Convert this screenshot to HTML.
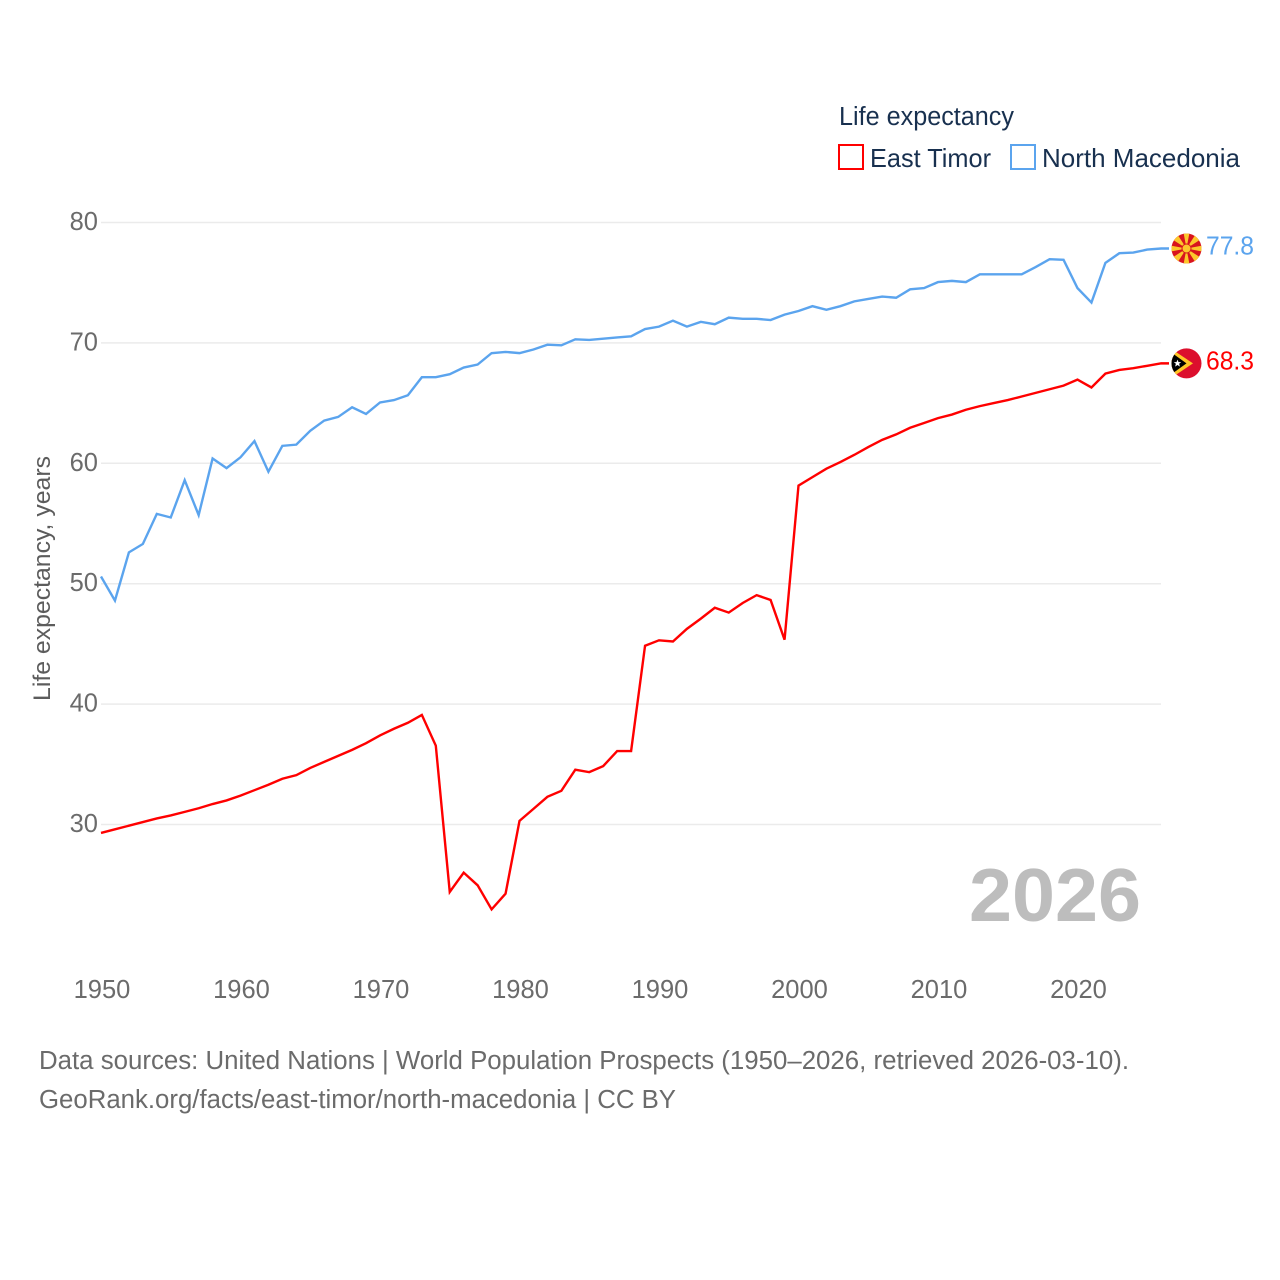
<!DOCTYPE html>
<html lang="en">
<head>
<meta charset="utf-8">
<title>Life expectancy: East Timor and North Macedonia</title>
<style>
html,body{margin:0;padding:0;background:#fff;width:1280px;height:1280px;overflow:hidden}
svg{display:block}
text{font-family:"Liberation Sans",sans-serif}
</style>
</head>
<body>
<svg id="chart" xmlns="http://www.w3.org/2000/svg" width="1280" height="1280" viewBox="0 0 1280 1280">
  <defs>
    <clipPath id="clip-flag"><circle cx="0" cy="0" r="15"/></clipPath>
  </defs>
  <g id="grid"></g>
  <g id="yticks"></g>
  <g id="xticks"></g>
  <text transform="translate(50,578.5) rotate(-90)" text-anchor="middle" font-size="24.5" fill="#5c5c5c" textLength="245" lengthAdjust="spacingAndGlyphs">Life expectancy, years</text>
  <g id="series"></g>

  <g id="flag-mk">
    <g clip-path="url(#clip-flag)">
      <rect x="-16" y="-16" width="32" height="32" fill="#d8141e"/>
      <g fill="#fcc72c">
        <polygon points="-3,-16 3,-16 0,0"/>
        <polygon points="-3,16 3,16 0,0"/>
        <polygon points="-16,-3 -16,3 0,0"/>
        <polygon points="16,-3 16,3 0,0"/>
        <polygon points="-14,-9 -9,-14 0,0"/>
        <polygon points="14,-9 9,-14 0,0"/>
        <polygon points="-14,9 -9,14 0,0"/>
        <polygon points="14,9 9,14 0,0"/>
      </g>
      <circle cx="0" cy="0" r="5" fill="#d8141e"/>
      <circle cx="0" cy="0" r="4" fill="#fcc72c"/>
    </g>
  </g>
  <g id="flag-tl">
    <g clip-path="url(#clip-flag)">
      <rect x="-16" y="-16" width="32" height="32" fill="#dc0f2d"/>
      <polygon points="-16,-15 6.5,0 -16,15" fill="#ffc726"/>
      <polygon points="-16,-11.5 0,0 -16,11.5" fill="#000"/>
      <polygon points="-9,-3.8 -8,-1.3 -5.3,-1.3 -7.4,0.4 -6.6,3.2 -9,1.6 -11.4,3.2 -10.6,0.4 -12.7,-1.3 -10,-1.3" fill="#fff"/>
    </g>
  </g>
  <text id="label-mk" x="1206" font-size="25.5" fill="#5ba4ee" textLength="48" lengthAdjust="spacingAndGlyphs"></text>
  <text id="label-tl" x="1206" font-size="25.5" fill="#ff0000" textLength="48" lengthAdjust="spacingAndGlyphs"></text>

  <text x="969" y="921" font-size="75" font-weight="700" fill="#bdbdbd" textLength="172" lengthAdjust="spacingAndGlyphs">2026</text>

  <g>
    <text x="839" y="125" font-size="25.5" fill="#18304f" textLength="175" lengthAdjust="spacingAndGlyphs">Life expectancy</text>
    <rect x="839" y="145" width="24" height="24" fill="none" stroke="#ff0000" stroke-width="2"/>
    <text x="870" y="167" font-size="26" fill="#18304f" textLength="121" lengthAdjust="spacingAndGlyphs">East Timor</text>
    <rect x="1011" y="145" width="24" height="24" fill="none" stroke="#5ba4ee" stroke-width="2"/>
    <text x="1042" y="167" font-size="26" fill="#18304f" textLength="198" lengthAdjust="spacingAndGlyphs">North Macedonia</text>
  </g>

  <g>
    <text x="39" y="1069" font-size="25.5" fill="#6b6b6b" textLength="1090" lengthAdjust="spacingAndGlyphs">Data sources: United Nations | World Population Prospects (1950–2026, retrieved 2026-03-10).</text>
    <text x="39" y="1108" font-size="25.5" fill="#6b6b6b" textLength="637" lengthAdjust="spacingAndGlyphs">GeoRank.org/facts/east-timor/north-macedonia | CC BY</text>
  </g>
</svg>
<script>
const years = [1950,1951,1952,1953,1954,1955,1956,1957,1958,1959,1960,1961,1962,1963,1964,1965,1966,1967,1968,1969,1970,1971,1972,1973,1974,1975,1976,1977,1978,1979,1980,1981,1982,1983,1984,1985,1986,1987,1988,1989,1990,1991,1992,1993,1994,1995,1996,1997,1998,1999,2000,2001,2002,2003,2004,2005,2006,2007,2008,2009,2010,2011,2012,2013,2014,2015,2016,2017,2018,2019,2020,2021,2022,2023,2024,2025,2026];
const northMacedonia = [50.6,48.6,52.6,53.3,55.8,55.5,58.6,55.7,60.4,59.6,60.5,61.85,59.3,61.45,61.55,62.7,63.55,63.85,64.65,64.1,65.05,65.25,65.65,67.15,67.15,67.4,67.95,68.2,69.15,69.25,69.15,69.45,69.85,69.8,70.3,70.25,70.35,70.45,70.55,71.15,71.35,71.85,71.35,71.75,71.55,72.1,72.0,72.0,71.9,72.35,72.65,73.05,72.75,73.05,73.45,73.65,73.85,73.75,74.45,74.55,75.05,75.15,75.05,75.7,75.7,75.7,75.7,76.3,76.95,76.9,74.55,73.35,76.65,77.45,77.5,77.75,77.84];
const eastTimor = [29.3,29.6,29.9,30.2,30.5,30.75,31.05,31.35,31.7,32.0,32.4,32.85,33.3,33.8,34.1,34.7,35.2,35.7,36.2,36.75,37.4,37.95,38.45,39.1,36.55,24.4,26.0,24.95,22.95,24.25,30.3,31.3,32.3,32.8,34.55,34.35,34.85,36.1,36.1,44.85,45.3,45.2,46.25,47.1,48.0,47.6,48.4,49.05,48.65,45.35,58.15,58.85,59.55,60.1,60.7,61.35,61.95,62.4,62.95,63.35,63.75,64.05,64.45,64.75,65.0,65.25,65.55,65.85,66.15,66.45,66.95,66.3,67.45,67.75,67.9,68.1,68.3];
const yTickValues = [30,40,50,60,70,80];
const xTickValues = [1950,1960,1970,1980,1990,2000,2010,2020];

const NS = 'http://www.w3.org/2000/svg';
function xScale(year){ return 101 + (year - 1950) * 13.95; }
function yScale(v){ return 824.5 - (v - 30) * 12.04; }
function mk(tag, parent, attrs){
  const el = document.createElementNS(NS, tag);
  for (const k in attrs) el.setAttribute(k, attrs[k]);
  parent.appendChild(el);
  return el;
}
const grid = document.getElementById('grid');
const yticks = document.getElementById('yticks');
const xticks = document.getElementById('xticks');
const seriesGroup = document.getElementById('series');

yTickValues.forEach(function(v){
  const line = mk('line', grid, {x1:101, x2:1161, y1:yScale(v), y2:yScale(v), stroke:'#ebebeb', 'stroke-width':1.5});
  
  
  const t = mk('text', yticks, {x:98, y:yScale(v)+7.5, 'text-anchor':'end', 'font-size':25.5, fill:'#6b6b6b'});
  
  
  t.textContent = v;
});
xTickValues.forEach(function(y){
  const t = mk('text', xticks, {x:xScale(y)+1, y:998, 'text-anchor':'middle', 'font-size':25.5, fill:'#6b6b6b'});
  
  
  t.textContent = y;
});
function drawSeries(values, color){
  let d = '';
  values.forEach(function(v, i){
    d += (i ? 'L' : 'M') + xScale(years[i]).toFixed(2) + ' ' + yScale(v).toFixed(2);
  });
  d += 'L1169 ' + yScale(values[values.length - 1]).toFixed(2);
  return mk('path', seriesGroup, {d:d, fill:'none', stroke:color, 'stroke-width':2.4, 'stroke-linejoin':'miter'});
}
const lineTl = drawSeries(eastTimor, '#ff0000');


const lineMk = drawSeries(northMacedonia, '#5ba4ee');



const lastMk = northMacedonia[northMacedonia.length - 1];
const lastTl = eastTimor[eastTimor.length - 1];
document.getElementById('flag-mk').setAttribute('transform', 'translate(1186.5,' + yScale(lastMk) + ')');
document.getElementById('flag-tl').setAttribute('transform', 'translate(1186.5,' + yScale(lastTl) + ')');
const labelMk = document.getElementById('label-mk');
labelMk.setAttribute('y', yScale(lastMk) + 6);
labelMk.textContent = lastMk.toFixed(1);
const labelTl = document.getElementById('label-tl');
labelTl.setAttribute('y', yScale(lastTl) + 6);
labelTl.textContent = lastTl.toFixed(1);
</script>
</body>
</html>
